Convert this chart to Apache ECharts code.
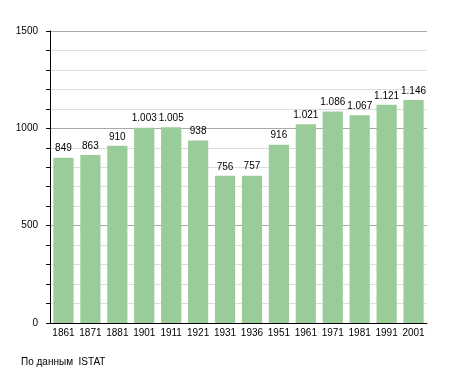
<!DOCTYPE html>
<html><head><meta charset="utf-8">
<script src="https://cdn.jsdelivr.net/npm/echarts@6/dist/echarts.min.js"></script>
<style>html,body{margin:0;padding:0;background:#fff}#c{width:455px;height:373px}</style>
</head><body><div id="c"></div>
<script>
const years = ['1861','1871','1881','1901','1911','1921','1931','1936','1951','1961','1971','1981','1991','2001'];
const population = [849,863,910,1003,1005,938,756,757,916,1021,1086,1067,1121,1146];
const yTicks = [0,500,1000,1500];
const sourceNote = 'По данным  ISTAT';

const fmt = v => v >= 1000 ? Math.floor(v/1000) + '.' + String(v%1000).padStart(3,'0') : String(v);
const chart = echarts.init(document.getElementById('c'), null, {renderer:'canvas'});
chart.setOption({
  animation:false,
  textStyle:{fontFamily:'Liberation Sans, Arial, sans-serif'},
  grid:{left:50,right:28,top:31,bottom:50,containLabel:false},
  graphic:[{type:'text',left:21,top:357,style:{text:sourceNote,fontSize:10,fill:'#000',fontFamily:'Liberation Sans, Arial, sans-serif'}}],
  xAxis:{type:'category',data:years,
    axisLine:{lineStyle:{color:'#000',width:1}},
    axisTick:{show:false},
    axisLabel:{color:'#000',fontSize:10,margin:5,interval:0}
  },
  yAxis:{type:'value',min:yTicks[0],max:yTicks[yTicks.length-1],interval:500,
    axisLine:{show:true,lineStyle:{color:'#000'}},
    axisTick:{show:true,length:4,lineStyle:{color:'#000'}},
    minorTick:{show:true,splitNumber:5,length:4,lineStyle:{color:'#000'}},
    splitLine:{show:true,lineStyle:{color:'#aaa',width:1}},
    minorSplitLine:{show:true,lineStyle:{color:'#ddd',width:1}},
    axisLabel:{color:'#000',fontSize:10,margin:12,formatter:v=>String(v)}
  },
  series:[{type:'bar',data:population,barCategoryGap:'25%',
    itemStyle:{color:'#99cc99'},
    label:{show:true,position:'top',distance:4,color:'#000',fontSize:10,formatter:p=>fmt(p.value)}
  }]
});
</script></body></html>
